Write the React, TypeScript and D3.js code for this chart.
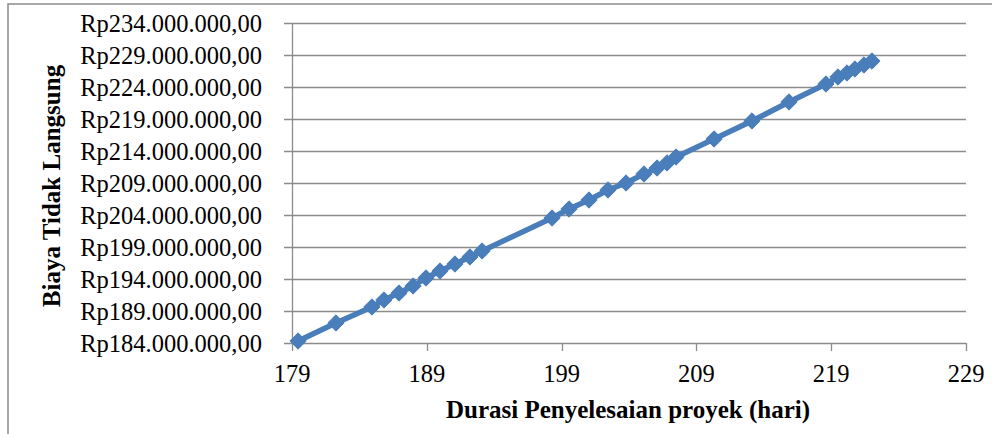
import React from "react";
import * as d3 from "d3";

const durations = [179.45, 182.26, 184.93, 185.82, 186.94, 187.98, 188.94, 189.98, 191.09, 192.2, 193.1,
  198.29, 199.55, 201.03, 202.44, 203.78, 205.11, 206.08, 206.82, 207.49,
  210.31, 213.12, 215.87, 218.61, 219.5, 220.17, 220.76, 221.43, 222.02];
const costs = [184.31, 187.13, 189.63, 190.72, 191.81, 192.91, 194.16, 195.25, 196.34, 197.44, 198.38,
  203.53, 204.94, 206.34, 207.91, 209.0, 210.41, 211.34, 212.13, 213.06,
  215.88, 218.69, 221.66, 224.47, 225.56, 226.19, 226.81, 227.44, 228.06].map(v => v * 1e6);
const xTicks = [179, 189, 199, 209, 219, 229];
const yTicks = [184, 189, 194, 199, 204, 209, 214, 219, 224, 229, 234].map(v => v * 1e6);
const xTitle = "Durasi Penyelesaian proyek (hari)";
const yTitle = "Biaya Tidak Langsung";

const W = 992, H = 434;
const L = 292, R = 966, T = 23, B = 343;
const FONT = "'Times New Roman', 'Liberation Serif', serif";
const BLUE = "#4A7EBB";
const GRID = "#8C8C8C";

function fmt(v: number) {
  const m = Math.round(v / 1e6);
  return "Rp" + m + ".000.000,00";
}

export default function App() {
  const x = d3.scaleLinear().domain([179, 229]).range([L, R]);
  const y = d3.scaleLinear().domain([184e6, 234e6]).range([B, T]);
  const pts = durations.map((d, i) => [x(d), y(costs[i])] as [number, number]);
  const line = d3.line()(pts) || "";
  const diamond = d3.symbol().type(d3.symbolDiamond2).size(170)() || "";
  return (
    <svg width={W} height={H} style={{ position: "absolute", left: 0, top: 0, background: "#fff" }}>
      <rect x={8} y={4} width={1100} height={600} fill="#fff" stroke="#8a8a8a" strokeWidth={1.5} />
      {yTicks.map((t, i) => (
        <g key={i}>
          <line x1={L - 8} x2={R} y1={Math.round(y(t)) + 0.5} y2={Math.round(y(t)) + 0.5} stroke={GRID} strokeWidth={1.3} />
          <text x={262} y={y(t)} dy="0.35em" textAnchor="end" fontFamily={FONT} fontSize={24.5} fill="#000">{fmt(t)}</text>
        </g>
      ))}
      <line x1={L + 0.5} x2={L + 0.5} y1={T} y2={B} stroke={GRID} strokeWidth={1.3} />
      {xTicks.map((t, i) => (
        <g key={i}>
          <line x1={Math.round(x(t)) + 0.5} x2={Math.round(x(t)) + 0.5} y1={B} y2={B + 8} stroke={GRID} strokeWidth={1.3} />
          <text x={x(t)} y={382} textAnchor="middle" fontFamily={FONT} fontSize={24.5} fill="#000">{t}</text>
        </g>
      ))}
      <path d={line} fill="none" stroke={BLUE} strokeWidth={5.5} strokeLinejoin="round" />
      {pts.map((p, i) => (
        <path key={i} d={diamond} transform={`translate(${p[0]},${p[1]})`} fill={BLUE} stroke={BLUE} strokeWidth={1} />
      ))}
      <text x={628} y={418} textAnchor="middle" fontFamily={FONT} fontSize={25} fontWeight="bold" fill="#000">{xTitle}</text>
      <text transform="translate(60,186) rotate(-90)" textAnchor="middle" fontFamily={FONT} fontSize={25} fontWeight="bold" fill="#000">{yTitle}</text>
    </svg>
  );
}
